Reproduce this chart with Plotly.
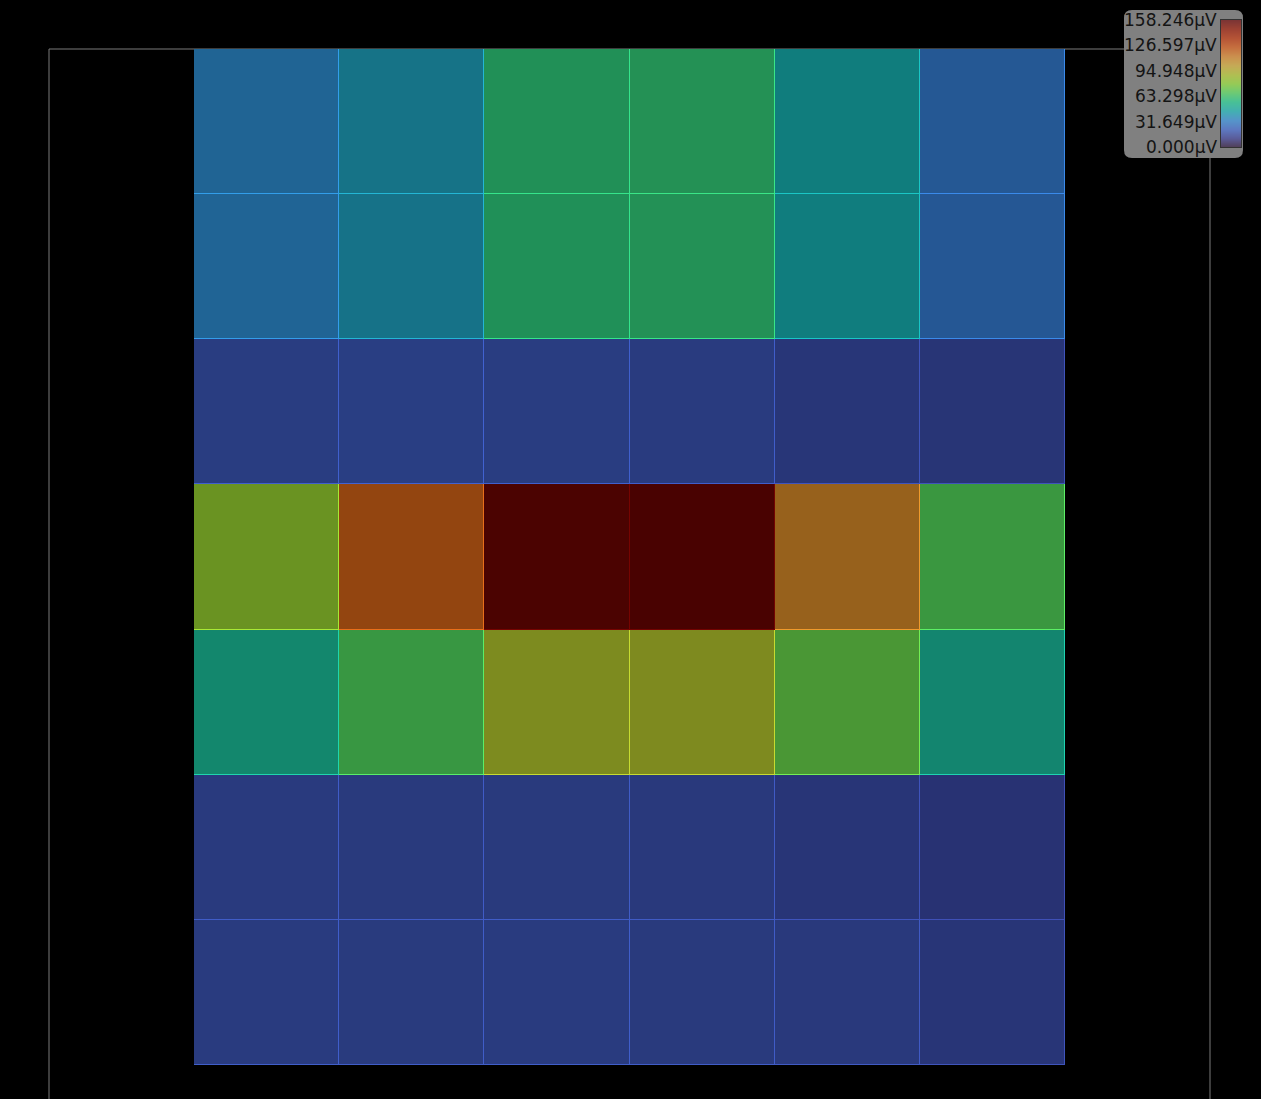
import plotly.graph_objects as go
import plotly.colors as pc

# ---- data ----
cols = [0, 1, 2, 3, 4, 5]
rows = [0, 1, 2, 3, 4, 5, 6]
z = [
    [35.3, 41.5, 60.3, 61.1, 46.0, 30.0],
    [35.0, 41.2, 60.0, 60.8, 45.6, 29.8],
    [19.0, 19.5, 19.0, 18.5, 16.3, 15.8],
    [82.6, 121.0, 157.5, 158.246, 111.0, 67.8],
    [52.3, 67.3, 90.4, 90.8, 72.2, 51.5],
    [18.0, 17.8, 17.9, 17.6, 16.0, 15.0],
    [18.4, 18.2, 18.4, 17.9, 17.4, 16.0],
]
zmin, zmax = 0.0, 158.246
tick_vals = [0.0, 31.649, 63.298, 94.948, 126.597, 158.246]
tick_text = ["0.000µV", "31.649µV", "63.298µV", "94.948µV", "126.597µV", "158.246µV"]

# ---- styling ----
W, H = 1261, 1099
PLOT_X0, PLOT_X1, PLOT_Y0, PLOT_Y1 = 194, 1065, 49, 1065   # pixels
BAR_X0, BAR_X1, BAR_Y0, BAR_Y1 = 1221, 1241, 20, 147

base = pc.sequential.Turbo
n = len(base)


def blended(f, bg):
    out = []
    for i, c in enumerate(base):
        r, g, b = pc.hex_to_rgb(c)
        rr_ = min(255, r * f + bg * (1 - f))
        gg_ = min(255, g * f + bg * (1 - f))
        bb_ = min(255, b * f + bg * (1 - f))
        out.append([i / (n - 1), "rgb(%d,%d,%d)" % (rr_, gg_, bb_)])
    return out


def fx(p):
    return p / W


def fy(p):
    return 1 - p / H


fig = go.Figure()
# border colours
fig.add_trace(go.Heatmap(
    z=z, x=cols, y=rows, zmin=zmin, zmax=zmax, colorscale=blended(0.95, 0),
    showscale=False, hoverinfo="skip",
))
# fill colours
fig.add_trace(go.Heatmap(
    z=z, x=cols, y=rows, zmin=zmin, zmax=zmax, colorscale=blended(0.6, 0),
    showscale=False, xgap=1, ygap=1,
))
# colour bar (legend) built from the tick values
fig.add_trace(go.Heatmap(
    z=[[v, v] for v in tick_vals], x=[0, 1], y=tick_vals,
    zmin=zmin, zmax=zmax, colorscale=blended(0.6, 128), zsmooth="best",
    showscale=False, hoverinfo="skip", xaxis="x2", yaxis="y2",
))

# outer frame
fig.add_shape(type="rect", xref="paper", yref="paper",
              x0=fx(49), x1=fx(1210), y0=-0.3, y1=fy(49),
              line=dict(color="#7a7a7a", width=1), layer="below")

# rounded colourbar box
bx0, bx1, by0, by1, rr = 1124, 1243, 10, 158, 8
path = (
    f"M {fx(bx0 + rr)},{fy(by0)} L {fx(bx1 - rr)},{fy(by0)} "
    f"Q {fx(bx1)},{fy(by0)} {fx(bx1)},{fy(by0 + rr)} "
    f"L {fx(bx1)},{fy(by1 - rr)} Q {fx(bx1)},{fy(by1)} {fx(bx1 - rr)},{fy(by1)} "
    f"L {fx(bx0 + rr)},{fy(by1)} Q {fx(bx0)},{fy(by1)} {fx(bx0)},{fy(by1 - rr)} "
    f"L {fx(bx0)},{fy(by0 + rr)} Q {fx(bx0)},{fy(by0)} {fx(bx0 + rr)},{fy(by0)} Z"
)
fig.add_shape(type="path", xref="paper", yref="paper", path=path,
              fillcolor="#808080", line=dict(width=0), layer="below")

# colourbar tick labels (left of bar)
for v, t in zip(tick_vals, tick_text):
    fig.add_annotation(
        xref="paper", yref="y2", x=fx(BAR_X0 - 2), y=v,
        xanchor="right", yanchor="middle", text=t, showarrow=False,
        font=dict(family="DejaVu Sans", size=17, color="#141414"),
    )

fig.update_layout(
    width=W, height=H,
    margin=dict(l=0, r=0, t=0, b=0, pad=0),
    paper_bgcolor="black", plot_bgcolor="black",
    xaxis=dict(domain=[fx(PLOT_X0), fx(PLOT_X1)], range=[-0.5, len(cols) - 0.5],
               visible=False, fixedrange=True),
    yaxis=dict(domain=[fy(PLOT_Y1), fy(PLOT_Y0)], range=[len(rows) - 0.5, -0.5],
               visible=False, fixedrange=True),
    xaxis2=dict(domain=[fx(BAR_X0), fx(BAR_X1)], range=[-0.5, 1.5], anchor="y2",
                showgrid=False, zeroline=False, showticklabels=False, ticks="",
                showline=True, mirror=True, linecolor="#333333", linewidth=1,
                fixedrange=True),
    yaxis2=dict(domain=[fy(BAR_Y1), fy(BAR_Y0)], range=[zmin, zmax], anchor="x2",
                showgrid=False, zeroline=False, showticklabels=False, ticks="",
                showline=True, mirror=True, linecolor="#333333", linewidth=1,
                fixedrange=True),
    showlegend=False,
)

fig.write_html("out.html")
